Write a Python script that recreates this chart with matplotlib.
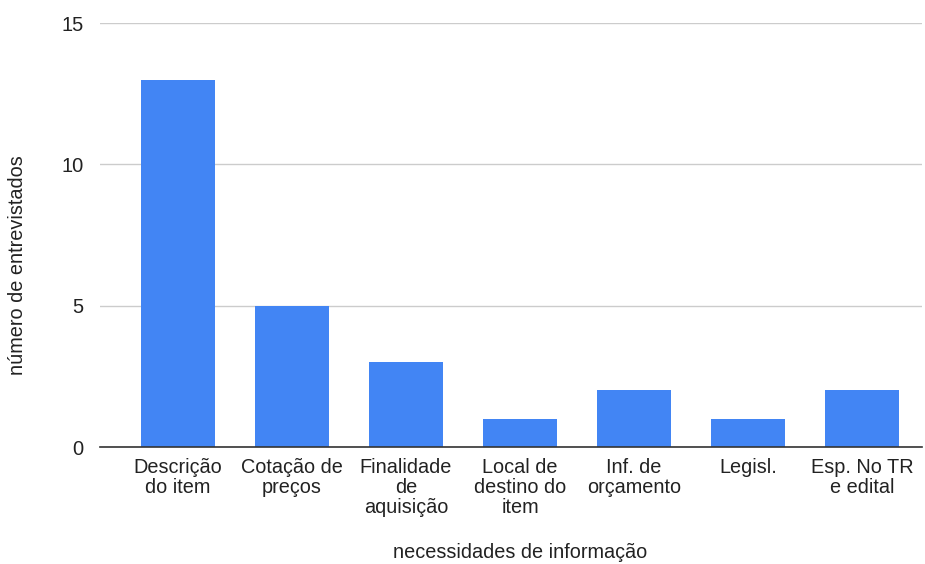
import matplotlib
matplotlib.use("Agg")
import matplotlib.pyplot as plt

# Necessidades de informação citadas pelos entrevistados
categorias = ["Descrição\ndo item", "Cotação de\npreços", "Finalidade\nde\naquisição",
              "Local de\ndestino do\nitem", "Inf. de\norçamento", "Legisl.", "Esp. No TR\ne edital"]
entrevistados = [13, 5, 3, 1, 2, 1, 2]
yticks = [0, 5, 10, 15]

plt.rcParams["font.family"] = ["Liberation Sans", "DejaVu Sans"]

fig = plt.figure(figsize=(9.25, 5.64), dpi=100)
ax = fig.add_axes([0.1081, 0.2074, 0.8887, 0.7518])

pos = list(range(len(categorias)))
ax.bar(pos, entrevistados, width=0.65, color="#4285f4", zorder=3)

ax.set_xlim(-0.684, 6.526)
ax.set_ylim(0, 15)
ax.set_yticks(yticks)
ax.set_yticklabels([str(t) for t in yticks], fontsize=14.5, color="#222222")
ax.set_xticks(pos)
ax.set_xticklabels(categorias, fontsize=14.3, color="#222222", linespacing=1.07)
ax.tick_params(axis="both", length=0)
ax.tick_params(axis="x", pad=8)
ax.tick_params(axis="y", pad=12)

ax.grid(axis="y", color="#cccccc", linewidth=1, zorder=0)
for s in ["top", "right", "left"]:
    ax.spines[s].set_visible(False)
ax.spines["bottom"].set_color("#333333")
ax.spines["bottom"].set_linewidth(1.2)
ax.spines["bottom"].set_zorder(4)

# rótulos dos eixos em pixels
fig.text(520, 564 - 553, "necessidades de informação", fontsize=14.3, color="#222222",
         ha="center", va="center", transform=None)
fig.text(18, 564 - 265, "número de entrevistados", fontsize=14.3, color="#222222",
         ha="center", va="center", rotation=90, transform=None)

fig.savefig("out.png", dpi=100)
